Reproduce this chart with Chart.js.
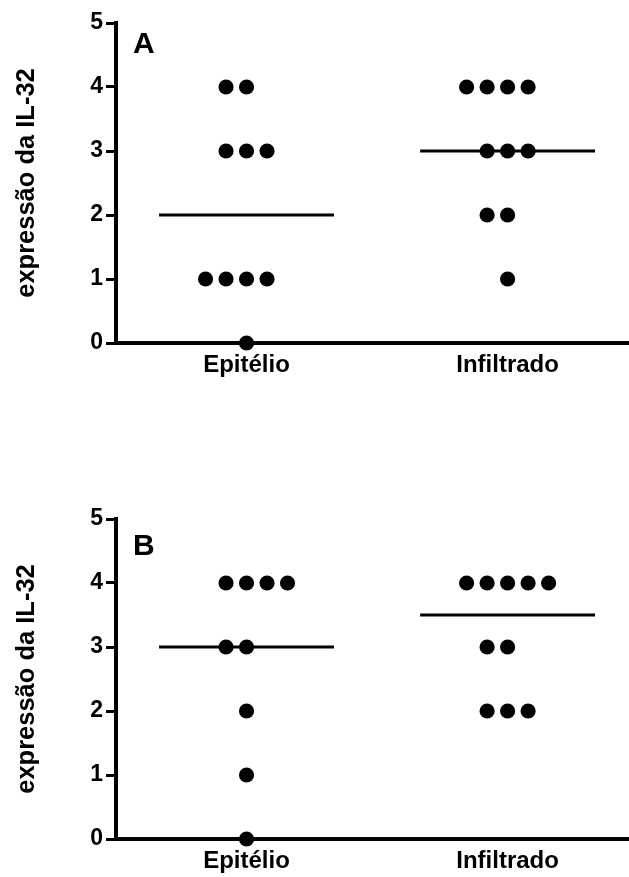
<!DOCTYPE html>
<html lang="pt">
<head>
<meta charset="UTF-8" />
<title>Expressão da IL-32</title>
<script src="https://cdn.jsdelivr.net/npm/chart.js"></script>
<style>
  html, body { margin: 0; padding: 0; background: #fff; overflow: hidden; }
  .painel { position: absolute; left: 0; width: 629px; height: 381px; }
  #painelA { top: 0; }
  #painelB { top: 496px; }
</style>
</head>
<body>
<div class="painel" id="painelA"><canvas id="graficoA"></canvas></div>
<div class="painel" id="painelB"><canvas id="graficoB"></canvas></div>

<script>
const categorias = ['Epitélio', 'Infiltrado'];
const yTicks = [0, 1, 2, 3, 4, 5];

const epitelioA = [4, 4, 3, 3, 3, 1, 1, 1, 1, 0];
const infiltradoA = [4, 4, 4, 4, 3, 3, 3, 2, 2, 1];
const medianasA = [2, 3];

const epitelioB = [4, 4, 4, 4, 3, 3, 2, 1, 0];
const infiltradoB = [4, 4, 4, 4, 4, 3, 3, 2, 2, 2];
const medianasB = [3, 3.5];

const PASSO = 0.0785;      // distância entre pontos lado a lado (unidades de x)
const MEIA_LINHA = 0.335;  // meia largura da linha da mediana

// pontos com o mesmo valor ficam lado a lado (estilo Prism)
function espalhar(valores, pos, desloc = {}) {
  const cont = {};
  valores.forEach(v => cont[v] = (cont[v] || 0) + 1);
  const usado = {};
  return valores.map(v => {
    const i = usado[v] || 0;
    usado[v] = i + 1;
    const inicio = -Math.floor(cont[v] / 2) + (desloc[v] || 0);
    return { x: pos + (inicio + i) * PASSO, y: v };
  });
}

function mediana(m, pos) {
  return [{ x: pos - MEIA_LINHA, y: m }, { x: pos + MEIA_LINHA, y: m }];
}

const fonte = (size) => ({ family: '"Liberation Sans", Arial, Helvetica, sans-serif', size, weight: 'bold' });

const letraPainel = {
  id: 'letraPainel',
  afterDraw(chart, args, opts) {
    const { ctx, chartArea } = chart;
    ctx.save();
    ctx.font = 'bold 30px "Liberation Sans", Arial, sans-serif';
    ctx.fillStyle = '#000';
    ctx.textBaseline = 'alphabetic';
    ctx.fillText(opts.texto, chartArea.left + 17, chartArea.top + opts.dy);
    ctx.restore();
  }
};

function criarGrafico(id, epi, inf, med, letra, dy, deslocEpi) {
  const pontos = { backgroundColor: '#000', borderColor: '#000', pointRadius: 7.6, borderWidth: 0, clip: false };
  const linha = { showLine: true, pointRadius: 0, borderWidth: 3, borderColor: '#000', clip: false };

  new Chart(document.getElementById(id), {
    type: 'scatter',
    data: {
      datasets: [
        { ...linha, data: mediana(med[0], 1) },
        { ...linha, data: mediana(med[1], 2) },
        { ...pontos, data: espalhar(epi, 1, deslocEpi) },
        { ...pontos, data: espalhar(inf, 2) }
      ]
    },
    plugins: [letraPainel],
    options: {
      responsive: true,
      maintainAspectRatio: false,
      animation: false,
      layout: { autoPadding: false, padding: { top: 23, left: 0, right: 0, bottom: 0 } },
      plugins: {
        legend: { display: false },
        tooltip: { enabled: false },
        letraPainel: { texto: letra, dy: dy }
      },
      scales: {
        x: {
          type: 'linear',
          min: 0.5,
          max: 2.465,
          afterBuildTicks: s => { s.ticks = [{ value: 1 }, { value: 2 }]; },
          afterFit: s => { s.height = 38; s.paddingLeft = 0; s.paddingRight = 0; },
          grid: { drawOnChartArea: false, drawTicks: false },
          border: { color: '#000', width: 4 },
          ticks: {
            padding: 8,
            color: '#000',
            font: fonte(24),
            maxRotation: 0,
            autoSkip: false,
            callback: v => categorias[v - 1]
          }
        },
        y: {
          min: 0,
          max: 5,
          afterBuildTicks: s => { s.ticks = yTicks.map(v => ({ value: v })); },
          afterFit: s => { s.width = 116; },
          grid: { drawOnChartArea: false, tickLength: 10, tickWidth: 3, tickColor: '#000' },
          border: { color: '#000', width: 4 },
          ticks: { padding: 3, color: '#000', font: fonte(23) },
          title: {
            display: true,
            text: 'expressão da IL-32',
            color: '#000',
            font: fonte(25.5),
            padding: { top: 12, bottom: 0 }
          }
        }
      }
    }
  });
}

criarGrafico('graficoA', epitelioA, infiltradoA, medianasA, 'A', 30);
criarGrafico('graficoB', epitelioB, infiltradoB, medianasB, 'B', 36, { 4: 1 });
</script>
</body>
</html>
